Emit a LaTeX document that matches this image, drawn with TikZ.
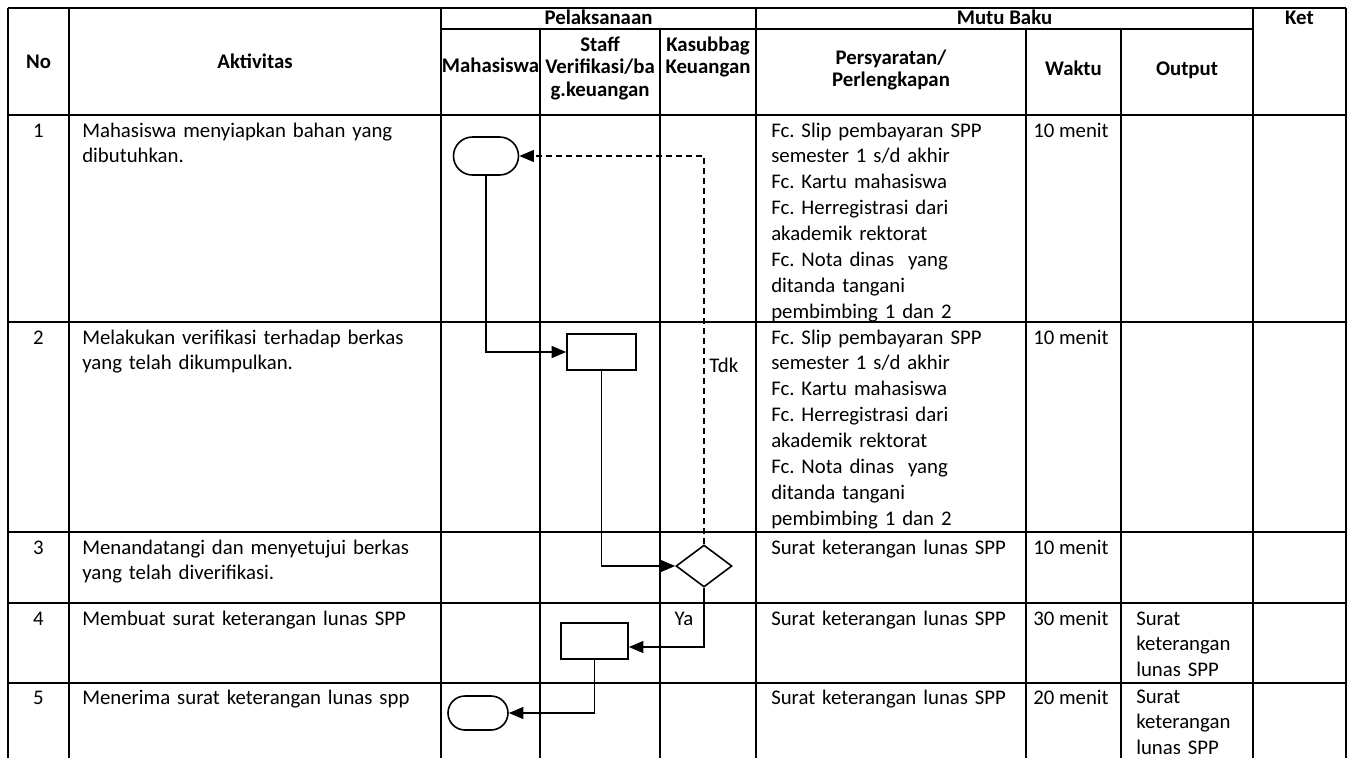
\documentclass[tikz,border=0pt]{standalone}
\usepackage{fontspec}
\setmainfont{Carlito}
\usetikzlibrary{
    arrows.meta,
    shapes.misc,
    shapes.geometric
}
\frenchspacing

\begin{document}
\begin{tikzpicture}[x=0.75pt,y=-0.75pt,
    grid/.style={line width=1.5pt},
    txt/.style={anchor=base west,align=left,inner sep=0pt,font=\frenchspacing\fontsize{15.6}{19.4}\selectfont},
    hd/.style={anchor=base,align=center,inner sep=0pt,font=\fontsize{15.6}{17}\selectfont\bfseries},
    term/.style={draw,line width=1.2pt,rounded rectangle,fill=white,inner sep=0pt},
    proc/.style={draw,line width=1.2pt,rectangle,fill=white,inner sep=0pt},
    dec/.style={draw,line width=1.2pt,diamond,fill=white,inner sep=0pt},
    flow/.style={line width=1.2pt,-{Triangle[length=11pt,width=9pt]}}
]
\useasboundingbox (0,0) rectangle (1350,758);

% Table lines
\draw[grid] (8,8) -- (1346,8);
\draw[grid] (441,29) -- (1253,29);
\foreach \y in {115,322,532,603,683}
  \draw[grid] (8,\y) -- (1346,\y);
\foreach \x in {8,69,441,756,1253,1346}
  \draw[grid] (\x,8) -- (\x,758);
\foreach \x in {540,660,1026,1121}
  \draw[grid] (\x,29) -- (\x,758);

% Header
\node[hd] (hNo) at (38.5,68) {No};
\node[hd] (hAkt) at (255,68) {Aktivitas};
\node[hd] (hPel) at (598.5,24) {Pelaksanaan};
\node[hd] (hMutu) at (1004.5,24) {Mutu Baku};
\node[hd] (hKet) at (1299.5,24) {Ket};
\node[hd] (hMhs) at (490.5,72) {Mahasiswa};
\node[hd,text width=90pt] (hStaff) at (600,51) {Staff\\Verifikasi/ba\\g.keuangan};
\node[hd,text width=72pt] (hKsb) at (708,51) {Kasubbag\\Keuangan};
\node[hd,text width=200pt] (hSyarat) at (891,64) {Persyaratan/\\Perlengkapan};
\node[hd] (hWaktu) at (1073.5,75) {Waktu};
\node[hd] (hOut) at (1187,75) {Output};

% Row numbers
\foreach \n/\y in {1/137,2/344,3/554,4/625,5/704}
  \node[txt,anchor=base] (no\n) at (38.5,\y) {\n};

% Aktivitas
\node[txt,text width=270pt] (akt1) at (82,137) {Mahasiswa menyiapkan bahan yang\\dibutuhkan.};
\node[txt,text width=270pt] (akt2) at (82,344) {Melakukan verifikasi terhadap berkas\\yang telah dikumpulkan.};
\node[txt,text width=270pt] (akt3) at (82,554) {Menandatangi dan menyetujui berkas\\yang telah diverifikasi.};
\node[txt,text width=270pt] (akt4) at (82,625) {Membuat surat keterangan lunas SPP};
\node[txt,text width=270pt] (akt5) at (82,704) {Menerima surat keterangan lunas spp};

% Persyaratan
\foreach \r/\y in {1/137,2/344}
  \node[txt,text width=195pt] (syarat\r) at (771,\y) {Fc. Slip pembayaran SPP\\semester 1 s/d akhir\\Fc. Kartu mahasiswa\\Fc. Herregistrasi dari\\akademik rektorat\\Fc. Nota dinas\ \ yang\\ditanda tangani\\pembimbing 1 dan 2};
\foreach \r/\y in {3/554,4/625,5/704}
  \node[txt,text width=195pt] (syarat\r) at (771,\y) {Surat keterangan lunas SPP};

% Waktu
\foreach \r/\y/\t in {1/137/10,2/344/10,3/554/10,4/625/30,5/704/20}
  \node[txt] (waktu\r) at (1033,\y) {\t{} menit};

% Output
\node[txt,text width=90pt] (out4) at (1136,625) {Surat\\keterangan\\lunas SPP};
\node[txt,text width=90pt] (out5) at (1136,703) {Surat\\keterangan\\lunas SPP};

% Flow shapes
\node[term,minimum width=48.75pt,minimum height=28.5pt] (mulai) at (486,156) {};
\node[proc,minimum width=51.75pt,minimum height=27pt] (verif) at (601.5,352) {};
\node[dec,minimum width=42pt,minimum height=31.5pt] (ttd) at (704,566) {};
\node[proc,minimum width=50.25pt,minimum height=27pt] (surat) at (594.5,641) {};
\node[term,minimum width=45pt,minimum height=25.5pt] (terima) at (478,713) {};

% Connectors
\draw[flow] (mulai.south) |- (verif.west);
\draw[flow] (verif.south) |- (ttd.west);
\draw[flow,dash pattern=on 4.5pt off 3pt] (ttd.north) |- (mulai.east);
\draw[flow] (ttd.south) |- ([yshift=-4.5pt]surat.east);
\draw[flow] (surat.south) |- (terima.east);

% Labels
\node[txt] (tdk) at (709,372) {Tdk};
\node[txt,anchor=base] (ya) at (684,625) {Ya};

\end{tikzpicture}
\end{document}
